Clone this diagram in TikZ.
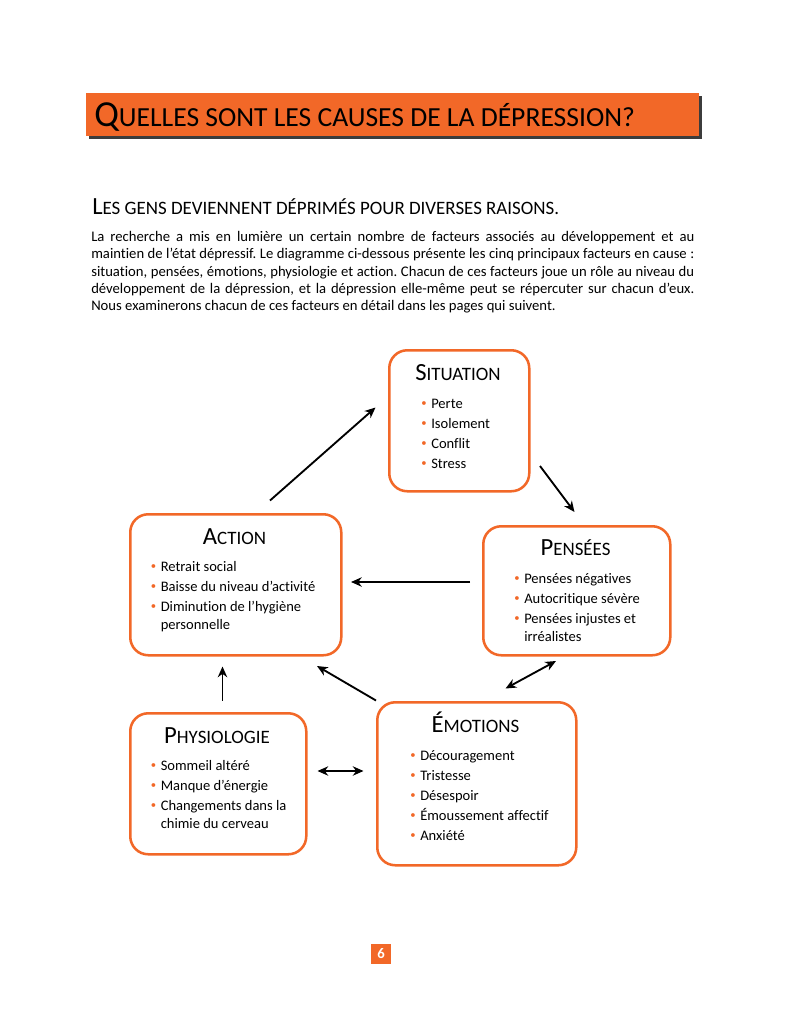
\documentclass[tikz,border=0pt]{standalone}
\usepackage{fontspec}
\setmainfont[Ligatures=NoCommon]{Carlito}
\usetikzlibrary{arrows.meta}
\definecolor{or}{RGB}{242,104,40}
\definecolor{shad}{RGB}{60,60,60}
\newcommand\bsc[2]{{\fontsize{18.5}{20}\selectfont #1}{\fontsize{14.2}{15}\selectfont #2}}
\newcommand\bul{\textcolor{or}{\raisebox{0.2ex}{\fontsize{8}{8}\selectfont •}}}
\newcommand\itm{\makebox[7.5pt][l]{\bul}}
\newcommand\blist[1]{\vtop{\baselineskip=15pt\lineskiplimit=-20pt\lineskip=0pt #1}}
\newcommand\wrapgap{\vskip-1.5pt}
\tikzset{
  box/.style={draw=or, line width=1.9pt, rounded corners=13.5pt, fill=white, anchor=north west, inner sep=0pt},
  btitle/.style={anchor=base, inner sep=0pt},
  blst/.style={anchor=base west, inner sep=0pt, font=\fontsize{10.9}{15}\selectfont},
  arr/.style={line width=1.4pt, -{Stealth[length=8pt,width=7pt,inset=2.5pt]}},
  darr/.style={line width=1.4pt, {Stealth[length=8pt,width=7pt,inset=2.5pt]}-{Stealth[length=8pt,width=7pt,inset=2.5pt]}}
}
\begin{document}
\begin{tikzpicture}[x=0.75pt,y=-0.75pt]
\useasboundingbox (0,0) rectangle (788,1024);
\fill[white] (0,0) rectangle (788,1024);
% title bar
\fill[shad] (89,96) rectangle (702,139);
\node[fill=or, minimum width=613*0.75pt, minimum height=43*0.75pt, anchor=north west, inner sep=0pt] (bar) at (86,93) {};
\node[anchor=base west, inner sep=0pt] (title) at (94,126) {{\fontsize{27.5}{30}\selectfont Q}{\fontsize{20.7}{24}\selectfont UELLES SONT LES CAUSES DE LA DÉPRESSION?}};
% subheading
\node[anchor=base west, inner sep=0pt] (sub) at (92,214) {{\fontsize{18.5}{22}\selectfont L}{\fontsize{14.2}{17}\selectfont ES GENS DEVIENNENT DÉPRIMÉS POUR DIVERSES RAISONS.}};
% body
\node[anchor=base west, inner sep=0pt] (body) at (91,241.5) {\parbox[t]{452.25pt}{\fontsize{11}{12.975}\selectfont\frenchspacing\hyphenpenalty=10000
La recherche a mis en lumière un certain nombre de facteurs associés au développement et au\linebreak
maintien de l’état dépressif. Le diagramme ci-dessous présente les cinq principaux facteurs en cause~:\linebreak
situation, pensées, émotions, physiologie et action. Chacun de ces facteurs joue un rôle au niveau du\linebreak
développement de la dépression, et la dépression elle-même peut se répercuter sur chacun d’eux.\linebreak
Nous examinerons chacun de ces facteurs en détail dans les pages qui suivent.}};
% boxes
\node[box, minimum width=140*0.75pt, minimum height=141*0.75pt] (sit) at (388,349) {};
\node[box, minimum width=187*0.75pt, minimum height=129*0.75pt] (pen) at (482,525) {};
\node[box, minimum width=211*0.75pt, minimum height=141*0.75pt] (act) at (129,513) {};
\node[box, minimum width=176*0.75pt, minimum height=141*0.75pt] (phy) at (129,712) {};
\node[box, minimum width=199*0.75pt, minimum height=163*0.75pt] (emo) at (376,701) {};
% box titles
\node[btitle] (sitT) at (458,380) {\bsc{S}{ITUATION}};
\node[btitle] (penT) at (575.5,555) {\bsc{P}{ENSÉES}};
\node[btitle] (actT) at (234.5,544) {\bsc{A}{CTION}};
\node[btitle] (phyT) at (217,743) {\bsc{P}{HYSIOLOGIE}};
\node[btitle] (emoT) at (475.5,732) {\bsc{É}{MOTIONS}};
% lists
\node[blst] (sitL) at (421,408) {\blist{\hbox{\itm Perte}\hbox{\itm Isolement}\hbox{\itm Conflit}\hbox{\itm Stress}}};
\node[blst] (penL) at (514,583) {\blist{\hbox{\itm Pensées négatives}\hbox{\itm Autocritique sévère}\hbox{\itm Pensées injustes et}\wrapgap\hbox{\hspace*{7.5pt}irréalistes}}};
\node[blst] (actL) at (150.5,571) {\blist{\hbox{\itm Retrait social}\hbox{\itm Baisse du niveau d’activité}\hbox{\itm Diminution de l’hygiène}\wrapgap\hbox{\hspace*{7.5pt}personnelle}}};
\node[blst] (phyL) at (150.5,770) {\blist{\hbox{\itm Sommeil altéré}\hbox{\itm Manque d’énergie}\hbox{\itm Changements dans la}\wrapgap\hbox{\hspace*{7.5pt}chimie du cerveau}}};
\node[blst] (emoL) at (410,760) {\blist{\hbox{\itm Découragement}\hbox{\itm Tristesse}\hbox{\itm Désespoir}\hbox{\itm Émoussement affectif}\hbox{\itm Anxiété}}};
% arrow end points
\coordinate (a1s) at (270,500.5);
\coordinate (a1e) at (375.5,407.5);
\coordinate (a2s) at (540,466);
\coordinate (a2e) at (574.5,512);
\coordinate (a3s) at (470,582);
\coordinate (a3e) at (351,582);
\coordinate (a4s) at (505.5,688.5);
\coordinate (a4e) at (556,661);
\coordinate (a5s) at (376,700.5);
\coordinate (a5e) at (317,666);
\coordinate (a6s) at (222.5,700.5);
\coordinate (a6e) at (222.5,666.5);
\coordinate (a7s) at (317.5,771);
\coordinate (a7e) at (363.5,771);
\draw[arr] (a1s) -- (a1e);
\draw[arr] (a2s) -- (a2e);
\draw[arr] (a3s) -- (a3e);
\draw[darr] (a4s) -- (a4e);
\draw[arr] (a5s) -- (a5e);
\draw[arr] (a6s) -- (a6e);
\draw[darr] (a7s) -- (a7e);
% page number
\node[fill=or, minimum size=20*0.75pt, inner sep=0pt, text=white, font=\bfseries\fontsize{11}{11}\selectfont] (pg) at (381,954) {6};
\end{tikzpicture}
\end{document}
